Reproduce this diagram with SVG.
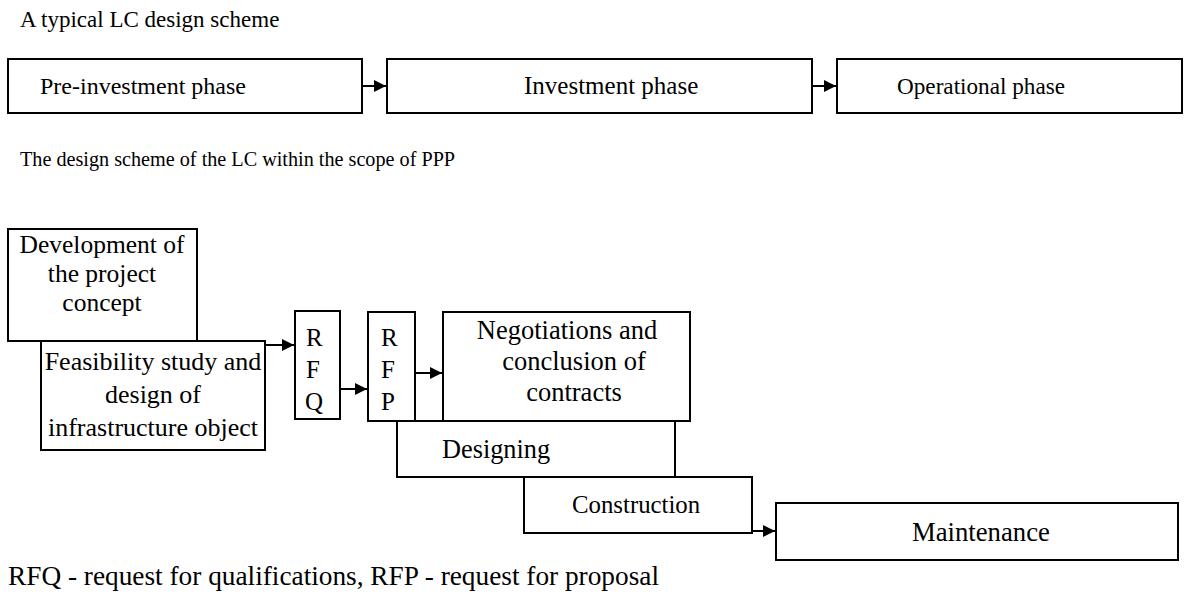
<svg xmlns="http://www.w3.org/2000/svg" width="1184" height="598" viewBox="0 0 1184 598" font-family="Liberation Serif, Times New Roman, serif">
<style>
.box{fill:#fff;stroke:#000;stroke-width:2}
text{font-family:'Liberation Serif','Times New Roman',serif;font-size:24px;fill:#000}
.c{text-anchor:middle}
.ln{stroke:#000;stroke-width:2;fill:none}
</style>
<defs>
<marker id="ah" viewBox="0 0 10 10" refX="10" refY="5" markerWidth="6" markerHeight="6" markerUnits="strokeWidth" orient="auto"><path d="M0,0 L10,5 L0,10 z" fill="#000"/></marker>
</defs>
<rect width="1184" height="598" fill="#fff"/>
<text x="20" y="27" style="font-size:23px">A typical LC design scheme</text>
<text x="20" y="166" style="font-size:20.2px">The design scheme of the LC within the scope of PPP</text>

<g id="pre"><rect class="box" x="8" y="59" width="354" height="54"/><text x="40" y="94">Pre-investment phase</text></g>
<g id="inv"><rect class="box" x="387" y="59" width="425" height="54"/><text x="524" y="94" style="font-size:25px">Investment phase</text></g>
<g id="op"><rect class="box" x="837" y="59" width="345" height="54"/><text x="897" y="94" style="font-size:23.2px">Operational phase</text></g>

<g id="dev"><rect class="box" x="8" y="229" width="189" height="112"/><text class="c" x="102" y="253" style="font-size:25.5px">Development of</text><text class="c" x="102" y="282" style="font-size:25.5px">the project</text><text class="c" x="102" y="311" style="font-size:25.5px">concept</text></g>
<g id="feas"><rect class="box" x="41" y="341" width="224" height="109"/><text class="c" x="153" y="370" style="font-size:26px">Feasibility study and</text><text class="c" x="153" y="403" style="font-size:26px">design of</text><text class="c" x="153" y="436" style="font-size:26px">infrastructure object</text></g>
<g id="rfq"><rect class="box" x="295" y="311" width="45" height="108"/><text x="306" y="346" style="font-size:25px">R</text><text x="306" y="378" style="font-size:25px">F</text><text x="305" y="410" style="font-size:25px">Q</text></g>
<g id="rfp"><rect class="box" x="368" y="312" width="47" height="109"/><text x="381" y="346" style="font-size:25px">R</text><text x="381" y="378" style="font-size:25px">F</text><text x="381" y="410" style="font-size:25px">P</text></g>
<g id="neg"><rect class="box" x="443" y="312" width="247" height="109"/><text class="c" x="567" y="339" style="font-size:26.5px">Negotiations and</text><text class="c" x="574" y="370" style="font-size:26.5px">conclusion of</text><text class="c" x="574" y="401" style="font-size:26.5px">contracts</text></g>
<g id="des"><rect class="box" x="397" y="421" width="278" height="56"/><text x="442" y="458" style="font-size:26.3px">Designing</text></g>
<g id="con"><rect class="box" x="524" y="477" width="228" height="56"/><text x="572" y="513" style="font-size:24.8px">Construction</text></g>
<g id="mnt"><rect class="box" x="776" y="503" width="402" height="57"/><text x="912" y="541" style="font-size:26.7px">Maintenance</text></g>

<g id="connectors">
<line class="ln" x1="362" y1="86" x2="386" y2="86" marker-end="url(#ah)"/>
<line class="ln" x1="812" y1="86" x2="836" y2="86" marker-end="url(#ah)"/>
<line class="ln" x1="265" y1="345" x2="294" y2="345" marker-end="url(#ah)"/>
<line class="ln" x1="340" y1="389" x2="367" y2="389" marker-end="url(#ah)"/>
<line class="ln" x1="415" y1="373" x2="442" y2="373" marker-end="url(#ah)"/>
<line class="ln" x1="752" y1="531" x2="775" y2="531" marker-end="url(#ah)"/>
</g>

<text x="8" y="585" style="font-size:27.3px">RFQ - request for qualifications, RFP - request for proposal</text>
</svg>
